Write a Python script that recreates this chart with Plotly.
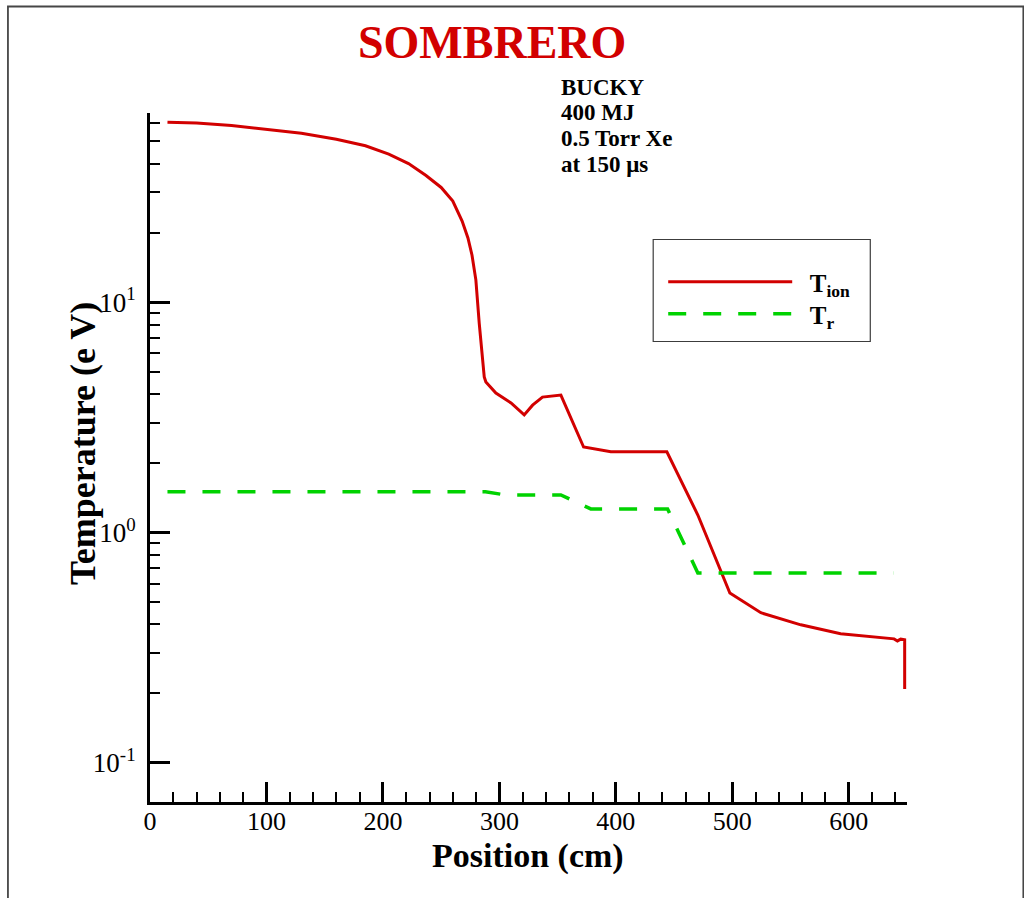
import plotly.graph_objects as go

# ---- data ----
ion_position = [15, 40, 70, 100, 130, 160, 185, 205, 222, 237, 250, 260, 268, 273, 276.5,
                279.8, 282.7, 287, 288.4, 297, 310, 321.3, 328.5, 337, 352.8, 372.3, 395.7,
                443.8, 470.4, 497.9, 524.5, 558.8, 593, 638.9, 641.8, 644.6, 648, 648]
ion_temp = [60.5, 60.0, 58.5, 56.5, 54.2, 51, 47.8, 44, 40, 35.5, 31.5, 27.5, 22.5, 19, 16,
            12.5, 8.1, 4.74, 4.5, 4.03, 3.65, 3.24, 3.57, 3.87, 3.95, 2.35, 2.24,
            2.24, 1.19, 0.546, 0.448, 0.397, 0.363, 0.345, 0.338, 0.344, 0.342, 0.209]

rad_position = [15, 288, 305, 352.8, 378.5, 444.4, 470.4, 638.6]
rad_temp = [1.503, 1.503, 1.455, 1.455, 1.265, 1.265, 0.667, 0.667]

x_major = [0, 100, 200, 300, 400, 500, 600]
y_major = [0.1, 1, 10]
y_major_text = ["10<sup>-1</sup>", "10<sup>0</sup>", "10<sup>1</sup>"]
y_minor = [0.2, 0.3, 0.4, 0.5, 0.6, 0.7, 0.8, 0.9, 2, 3, 4, 5, 6, 7, 8, 9, 20, 30, 40, 50, 60]

info_lines = ["BUCKY", "400 MJ", "0.5 Torr Xe", "at 150 \u03bcs"]

RED = "rgb(210,0,0)"
GREEN = "rgb(0,210,0)"
SERIF = "Liberation Serif"

W, H = 1024, 898
L, R, T, B = 150, 906.7, 113, 802


def px(x):
    return (x - L) / (R - L)


def py(y):
    return (B - y) / (B - T)


GAP = "\u00a0\u00a0"

fig = go.Figure()
fig.add_trace(go.Scatter(x=ion_position, y=ion_temp, mode="lines", legend="legend",
                         name=GAP + "T<sub>ion</sub>", line=dict(color=RED, width=3)))
fig.add_trace(go.Scatter(x=rad_position, y=rad_temp, mode="lines", legend="legend2",
                         name=GAP + "T<sub>r</sub>", line=dict(color=GREEN, width=3.5, dash="18px,17px")))

legend_style = dict(xanchor="left", yanchor="top", bgcolor="rgba(0,0,0,0)", borderwidth=0,
                    itemwidth=124, font=dict(family=SERIF, size=25, color="black", weight="bold"))

fig.update_layout(
    width=W, height=H,
    margin=dict(l=L, r=W - R, t=T, b=H - B, pad=0),
    paper_bgcolor="white", plot_bgcolor="white",
    font=dict(family=SERIF, color="black"),
    showlegend=True,
    legend=dict(x=px(663), y=py(259), **legend_style),
    legend2=dict(x=px(663), y=py(291), **legend_style),
    xaxis=dict(range=[0, 650], showline=True, linecolor="black", linewidth=3,
               showgrid=False, zeroline=False, ticks="inside", ticklen=20, tickwidth=3,
               tickcolor="black", tickmode="array", tickvals=x_major, ticklabelstandoff=-6,
               tickfont=dict(family=SERIF, size=26, color="black"),
               minor=dict(ticks="inside", ticklen=10, tickwidth=1.5, tickcolor="black",
                          dtick=20, tick0=0, showgrid=False)),
    yaxis=dict(type="log", range=[-1.1707, 1.8217], showline=True, linecolor="black",
               linewidth=3, showgrid=False, zeroline=False, ticks="inside", ticklen=20,
               tickwidth=3, tickcolor="black", tickmode="array", tickvals=y_major,
               ticktext=y_major_text, ticklabelstandoff=6,
               tickfont=dict(family=SERIF, size=27, color="black"),
               minor=dict(ticks="inside", ticklen=10, tickwidth=1.5, tickcolor="black",
                          tickmode="array", tickvals=y_minor, showgrid=False)),
)

annotations = [
    dict(text="SOMBRERO", xref="paper", yref="paper", x=px(492), y=py(42),
         xanchor="center", yanchor="middle", showarrow=False,
         font=dict(family=SERIF, size=46, color=RED, weight="bold")),
    dict(text="Temperature (e V)", xref="paper", yref="paper", x=px(83), y=py(443),
         xanchor="center", yanchor="middle", showarrow=False, textangle=-90,
         font=dict(family=SERIF, size=36, color="black", weight="bold")),
    dict(text="Position (cm)", xref="paper", yref="paper", x=px(528), y=py(856),
         xanchor="center", yanchor="middle", showarrow=False,
         font=dict(family=SERIF, size=34, color="black", weight="bold")),
]
info_y = [87, 112.7, 138.4, 164]
for line, yy in zip(info_lines, info_y):
    annotations.append(dict(text=line, xref="paper", yref="paper", x=px(559), y=py(yy),
                            xanchor="left", yanchor="middle", showarrow=False,
                            font=dict(family=SERIF, size=23, color="black", weight="bold")))
fig.update_layout(annotations=annotations)

shapes = [
    # legend box
    dict(type="rect", xref="paper", yref="paper", x0=px(653), x1=px(870), y0=py(239.5), y1=py(341.5),
         line=dict(color="rgb(60,60,60)", width=1.2), fillcolor="rgba(0,0,0,0)"),
    # outer frame
    dict(type="rect", xref="paper", yref="paper", x0=px(8), x1=px(1023), y0=py(6.5), y1=py(940),
         line=dict(color="rgb(70,70,70)", width=1.8), fillcolor="rgba(0,0,0,0)"),
]
fig.update_layout(shapes=shapes)

fig.write_html("out.html")
